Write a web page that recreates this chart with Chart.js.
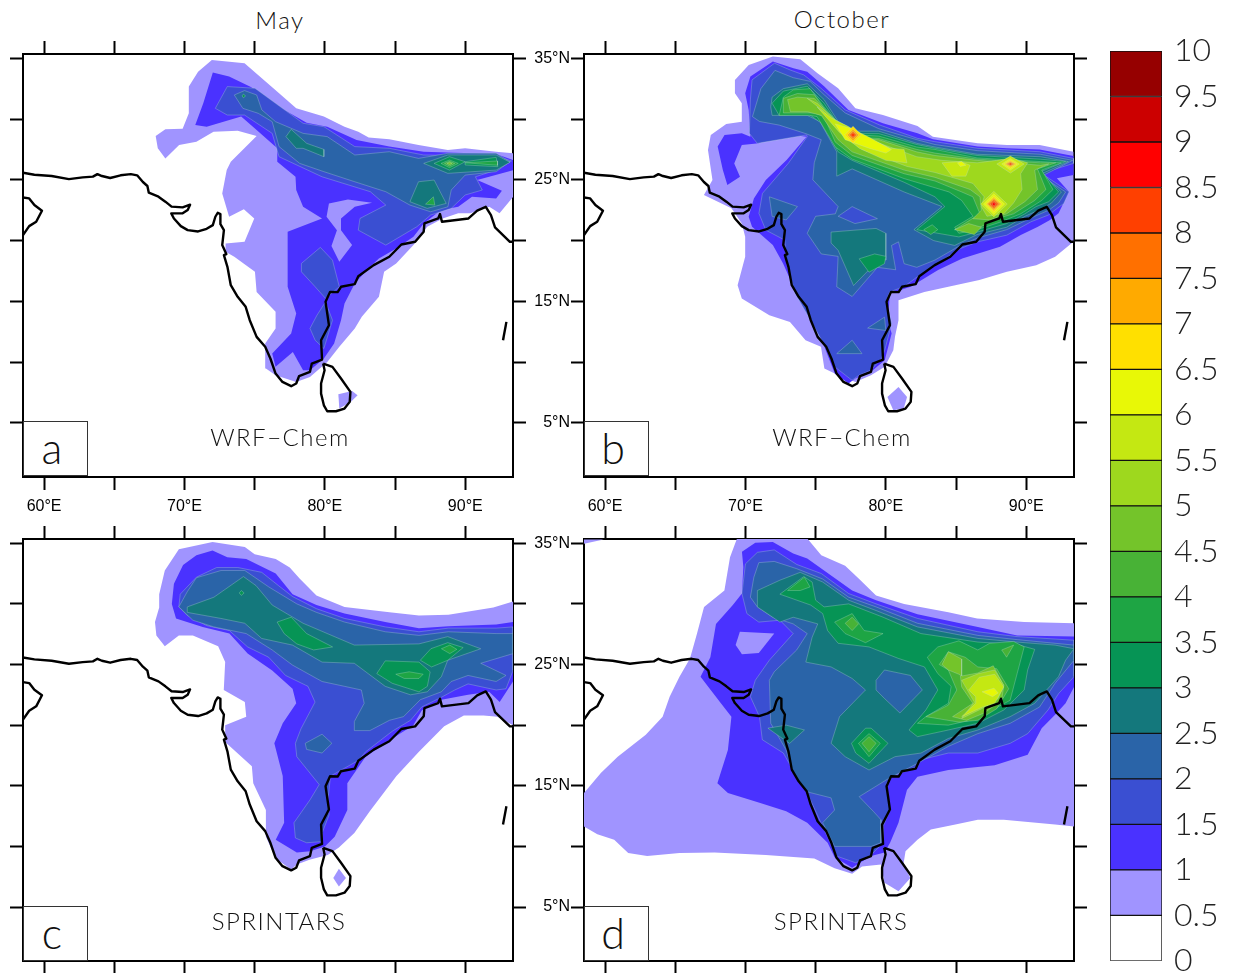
<!DOCTYPE html>
<html>
<head>
<meta charset="utf-8">
<title>May / October</title>
<script src="https://cdn.jsdelivr.net/npm/chart.js@4/dist/chart.umd.min.js"></script>
<style>
html,body{margin:0;padding:0;background:#fff;overflow:hidden;width:1241px;height:973px}
canvas{position:absolute}
.txt{position:absolute;font-family:"Lato","Open Sans",sans-serif;font-weight:300;color:#111;white-space:nowrap;transform:translate(-50%,-50%);letter-spacing:1.5px}
.box{position:absolute;width:65px;height:55px;background:#fff;border:1px solid #333;box-sizing:border-box;padding-right:7px;text-align:center;font-family:"Lato",sans-serif;font-weight:300;font-size:43px;line-height:52px;color:#111}
</style>
</head>
<body>
<canvas id="panelA" width="530" height="488" style="left:3px;top:34px"></canvas>
<canvas id="panelB" width="570" height="488" style="left:524px;top:34px"></canvas>
<canvas id="panelC" width="530" height="455" style="left:3px;top:519px"></canvas>
<canvas id="panelD" width="570" height="455" style="left:524px;top:519px"></canvas>
<canvas id="colorBar" width="141" height="981" style="left:1100px;top:11px"></canvas>

<div class="txt" style="left:280px;top:19px;font-size:24px">May</div>
<div class="txt" style="left:842px;top:18px;font-size:24px">October</div>
<div class="txt" style="left:280px;top:436px;font-size:24px">WRF−Chem</div>
<div class="txt" style="left:842px;top:436px;font-size:24px">WRF−Chem</div>
<div class="txt" style="left:279px;top:920px;font-size:24px">SPRINTARS</div>
<div class="txt" style="left:841px;top:920px;font-size:24px">SPRINTARS</div>
<div class="box" style="left:23px;top:421px">a</div>
<div class="box" style="left:584px;top:421px">b</div>
<div class="box" style="left:23px;top:906px">c</div>
<div class="box" style="left:584px;top:906px">d</div>

<script>
// colour bar
const barSteps = [0,0.5,1,1.5,2,2.5,3,3.5,4,4.5,5,5.5,6,6.5,7,7.5,8,8.5,9,9.5];
const barColors = ['#ffffff','#a094ff','#4a32ff','#3a4fd2','#2a64a8','#14787c','#069455','#1ea544','#48b236','#74c42a',
    '#9ed81e','#c4e812','#e8f806','#ffe000','#ffaa00','#ff7000','#ff4000','#ff0000','#cc0000','#960000'];

// map coastline, lon,lat pairs
const coastMain = [58.5,25.58,59.31,25.42,60.54,25.31,61.77,25.06,62.75,25.2,63.48,25.26,63.8,25.47,64.12,25.31,64.71,25.15,65.45,25.37,66.18,25.47,66.63,25.37,67.04,24.82,67.36,24.49,67.46,23.94,68.15,23.61,68.64,23.2,69.08,22.79,69.87,22.73,70.4,22.95,70.23,22.51,69.87,22.24,69.06,22.24,69.25,21.82,69.74,21.19,70.23,20.86,70.97,20.75,71.58,20.97,72.02,21.27,72.2,21.96,72.37,22.29,72.56,22.18,72.56,21.36,72.81,20.86,72.69,19.63,72.98,18.89,72.81,18.8,73.06,17.84,73.3,16.33,73.79,15.37,74.36,14.55,74.65,13.45,75.14,12.08,75.75,11.26,76.12,10.3,76.49,9.06,76.98,8.37,77.6,8.02,77.96,8.24,78.16,8.84,78.94,9.2,79.07,9.88,79.8,10.21,79.73,11.8,80.29,13.04,80.05,14.96,80.37,15.78,80.91,15.76,81.15,16.2,82.13,16.42,82.38,17.07,83.48,17.98,84.59,18.67,85.45,19.68,86.43,19.9,87.04,20.73,87.09,21.41,88.07,21.82,88.2,22.18,88.34,21.55,90.23,21.82,90.85,22.46,91.46,22.78,91.83,22.1,92.12,21.08,93.18,19.9,93.42,19.9];
const coastOman = [58.5,23.55,58.94,23.47,59.31,22.92,59.85,22.46,59.44,21.55,58.94,21.19,58.5,20.45];
const coastLanka = [79.88,9.88,80.54,9.61,81.15,8.65,81.82,7.55,81.77,6.73,81.4,6.18,80.79,5.96,80.17,5.96,79.93,6.45,79.73,7.41,79.73,8.24,79.98,9.33,79.88,9.88];
const coastIsle = [92.93,13.31,92.69,11.8];

// [level, lon,lat ring]
const wrfMay = [
[0.5,[71.95,34.86,74.28,34.59,75.51,33.35,76.74,32.12,77.96,30.88,79.93,30.2,81.4,29.37,82.38,28.96,83.12,28.49,84.59,28.33,86.67,27.86,88.76,27.45,89.99,27.59,92.2,27.31,93.42,27.18,93.42,23.61,92.44,22.24,91.71,22.78,90.36,22.24,89.5,22.24,88.39,21.82,87.29,21.13,86.31,19.63,85.08,18.12,84.22,17.43,83.85,15.37,82.63,13.73,82.13,12.77,81.03,11.26,80.17,10.02,78.94,8.78,77.96,8.37,76.49,8.92,75.8,9.47,75.75,11.53,76.49,12.77,76.49,14.14,75.14,15.78,75.02,17.43,73.55,18.67,72.93,19.08,72.93,19.77,74.28,19.9,74.97,21.82,74.23,22.57,73.18,21.96,72.69,23.88,73.01,25.8,73.3,26.49,75.14,28.6,73.79,29.04,72.07,28.96,70.85,28.14,69.62,27.86,68.64,26.76,68.1,27.59,67.95,28.6,68.64,29.15,69.87,29.21,70.31,30.47,70.31,32.67,70.97,33.9]],
[0.5,[80.96,7.36,81.94,7.63,82.33,7.28,81.84,6.73,81.03,6.18]],
[1,[72.02,33.82,73.18,33.49,74.77,32.61,76.49,31.16,78.7,29.7,80.17,29.37,82.26,28.27,84.59,27.73,87.04,27.31,92.2,27.12,93.42,26.63,93.42,25.8,90.85,24.98,92.61,24.1,92.2,23.47,90.48,23.61,89.5,22.78,88.27,22.51,87.04,21.41,86.31,20.31,85.08,19.35,83.85,18.53,82.99,17.57,82.13,16.47,81.4,14.82,81.15,13.45,80.66,11.53,79.93,10.29,78.94,9.33,78.45,9.33,77.72,10.84,76.49,9.61,76.25,10.71,77.6,12.35,77.96,14,77.35,16.2,77.35,20.73,79.8,21.82,78.45,22.78,77.96,24.16,77.91,25.25,76.61,26.49,76.61,27.59,75.14,29.1,74.04,30.2,71.58,29.37,70.77,29.51,71.34,31.29]],
[0.5,[80.29,23.06,81.64,23.39,83.36,23.11,82.13,22.78,81.15,21.82,81.15,20.86,81.94,19.63,81.03,18.26,80.47,19.55,80.86,20.86,80.12,21.96]],
[1.5,[73.05,32.67,75.02,32.53,76.49,31.29,78.45,29.65,79.93,29.37,82.13,27.73,84.59,27.59,87.04,27.04,92.2,26.96,93.3,26.55,92.2,25.8,90.72,25.25,91.21,24.16,89.99,23.75,89,22.65,87.53,22.1,86.55,21.14,84.34,19.63,82.38,20.86,82.5,21.82,84.34,22.92,83.24,24.02,79.8,25.25,76.74,26.9,76.25,28.82,74.28,30.33,73.05,30.33,72.2,30.88]],
[1.5,[78.33,18.12,79.68,19.44,80.54,18.39,81.03,16.2,80.05,15.24,79.31,16.2,78.33,17.43]],
[1.5,[78.94,12.77,79.44,13.86,80.05,14.96,80.54,13.45,79.93,11.12,79.31,11.8]],
[2,[73.55,31.98,74.28,32.34,75.14,31.98,75.51,30.75,76.49,29.78,78.45,28.82,80.17,28.55,82.13,27.04,84.59,27.31,86.67,26.76,88.76,27.18,92.2,27.18,93.18,26.49,92.2,25.67,89.99,25.39,89,24.16,88.76,22.78,87.53,22.37,86.06,22.92,84.34,24.02,82.13,24.84,79.93,25.67,78.21,26.35,76.74,27.73,76.25,29.78,75.26,30.47,74.16,30.88]],
[2.5,[77.23,28.55,77.6,29.15,78.7,28,79.93,27.5,79.93,26.9,78.45,27.59,77.96,27.59]],
[2.5,[86.06,23.2,86.67,24.84,87.78,24.98,88.64,23.06,87.29,22.65]],
[2.5,[87.04,26.35,88.76,27.04,92.2,27.04,93.18,26.44,92.2,25.8,88.76,25.53]],
[3,[87.78,26.35,88.88,26.9,89.99,26.49,88.88,25.8]],
[3,[89.99,26.49,92.2,26.85,92.32,26.08,89.99,26.22]],
[3,[74.1,31.9,74.2,32.05,74.35,31.9,74.2,31.75]],
[3.5,[87.17,23,87.73,23.6,87.83,22.92]],
[3.5,[88.27,26.35,88.88,26.63,89.5,26.35,88.88,26]],
[3.5,[90,26.4,92.3,26.55,92.3,26.2]],
[4,[88.52,26.35,88.88,26.52,89.25,26.35,88.88,26.13]],
[4.5,[88.7,26.35,88.88,26.45,89.06,26.35,88.88,26.25]]
];

const wrfOct = [
[0.5,[71.95,35.14,73.91,34.92,75.13,33.76,76.6,32.53,77.83,30.88,79.79,30.33,82.25,29.43,83.35,28.55,86.54,28,88.62,27.86,90.95,27.86,93.36,27.31,93.36,19.9,92.06,18.67,90.71,17.98,88.62,17.43,86.66,16.75,84.45,16.2,82.74,15.78,80.9,15.1,80.9,13.45,80.65,12.08,80.53,10.98,79.92,9.61,78.94,8.92,77.83,8.37,76.36,9.06,75.62,9.47,75.38,11.26,74.28,11.8,73.17,13.31,71.7,13.86,69.74,15.24,69.44,16.33,69.98,18.67,69.98,20.31,69.74,21.41,69,22.65,67.04,23.75,67.65,24.98,67.33,27.45,67.53,28.69,68.63,29.59,69.74,29.78,69.74,31.29,69.25,32.12,69.25,33.22,70.23,34.45]],
[0.5,[80.11,7.14,80.9,7.96,81.51,7.14,81.27,6.18,80.53,6.04]],
[1,[71.95,34.73,73.42,34.18,74.4,33.9,75.62,32.67,77.34,30.75,79.79,29.65,82.25,28.82,83.35,28.33,86.54,27.73,88.62,27.59,90.95,27.5,93.36,26.96,93.36,25.39,92.18,25.12,93.04,24.02,92.3,22.24,91.69,21.69,90.83,21.14,89.61,20.45,88.13,19.49,85.44,18.53,83.72,17.57,81.76,16.2,80.28,15.65,80.16,13.45,80.41,12.35,79.92,10.16,78.94,9.2,77.83,8.65,77.34,8.24,76.36,9.06,75.62,11.26,75.38,12.77,74.4,14.55,73.42,16.2,72.68,18.12,71.95,19.63,70.47,21.14,70.23,21.96,70.6,23.47,71.45,24.98,72.93,26.63,74.35,28.55,72.44,28.82,70.96,28,69.74,27.86,69.2,26.35,69.61,25.25,68.71,24.57,68.39,25.8,68.02,27.73,68.51,28.69,69.74,28.82,70.35,28.55,70.23,30.75,69.98,32.12,70.35,33.49]],
[1.5,[72.07,34.59,73.17,34.04,74.15,33.63,75.38,32.53,77.1,30.75,79.55,29.51,82.25,28.41,83.47,28.14,86.54,27.59,90.95,27.31,93.36,26.76,93.36,26.35,91.08,25.53,93.04,24.02,92.67,23.06,91.57,22.1,90.34,21.55,88.62,20.45,86.54,19.9,85.31,19.35,83.72,18.12,82.25,17.02,81.27,16.2,80.28,15.78,80.04,15.1,80.41,13.18,79.92,10.98,79.67,10.29,78.94,9.33,78.08,8.92,77.59,8.51,76.36,9.61,75.62,11.39,74.64,13.45,73.54,15.65,72.93,18.12,72.8,20.04,71.45,20.86,70.96,22.24,71.21,23.88,73.05,26.35,74.4,28.55,74.35,28.69,70.84,28,70.28,28.82,70.35,31.57,70.47,33.22]],
[2,[72.1,34,73.4,33.4,74.6,33.1,75.6,32,77.1,30.5,79.5,29.2,82.2,28.3,83.5,27.9,86.5,27.4,91,27.1,93.3,26.6,91.1,25.3,92.8,24,92.3,23.1,91.6,22.5,90.6,22,88.6,20.9,86.5,20.2,85.3,19.6,83.5,18.4,82.2,17.8,81.3,18.1,80.9,19.9,80.4,19.6,80.7,17.6,79.4,17.8,77.6,15.4,76.5,16.2,76.6,18.7,75.4,18.9,74.4,20.6,75,22,76.4,22.2,76.6,22.8,74.8,25,74.9,26.4,75.4,28.3,74.3,28.8,72.4,29.5,71,29.8,70.5,30.2,71.1,32.5]],
[2,[71.7,23.6,73.7,22.8,72.9,21.7,71.9,22]],
[2,[78.7,12.8,79.9,13.7,80,12.6]],
[2,[76.5,10.7,77.6,11.8,78.3,10.7]],
[1.5,[76.6,22,77.6,22.8,79.4,21.8,77.8,21.4]],
[2.5,[71.8,31,71.9,31.8,72.7,32.5,74.4,32.9,75.6,31.6,76.6,29.8,77.8,29,79.5,29,82.2,28,83.5,27.7,86.5,27.1,91,26.9,93,26.5,91.1,25.5,92.5,24,91.8,23.1,91.1,22.6,89.9,22,88.6,21.1,86.5,20.5,84.9,19.6,83.4,20,82,20.9,84,22.8,81.3,24,77.6,25.9,76.5,25.3,76.5,27.3,75.3,29.8,74.4,30.3,71.9,30.3]],
[2.5,[76.1,20.7,79.3,21,80,20.6,80,18.4,78.8,17.6,77.7,16.3,76.6,19.2,76.1,19.8]],
[3,[71.9,31.3,72.7,32.3,74.4,32.7,75.6,31.3,76.6,29.6,77.8,28.8,79.5,28.8,82.2,27.9,83.5,27.6,86.5,27,91,26.7,92.8,26.5,91.1,25.7,92.3,24,91.6,23.2,90.7,22.8,89.9,22.2,88.6,21.4,86.5,20.7,85.2,20.3,82.2,20.9,84.2,22.8,83.5,23.6,81.3,24.8,77.6,26.6,76.6,27.3,75.6,29.5,74.4,30.5,72.4,30.3]],
[3,[78.1,18.5,79.2,18.9,80,18.7,79.9,18.1,78.8,17.4]],
[3.5,[72.7,31.8,73.4,32.4,74.6,32.5,75.6,31,76.7,29.5,77.8,28.7,79.5,28.6,82.2,27.7,83.5,27.5,86.5,26.8,91,26.5,92.5,26.4,91.1,25.8,91.9,24.2,91.1,23.3,89.6,22.2,88.1,21.5,86.5,20.9,85.2,20.6,84.9,21.1,86.2,22,85.4,23.3,84.5,24,81.3,25.1,77.6,26.7,76.4,27.7,75.1,30.2,74.6,30.3,72.4,30.3]],
[3.5,[82.7,20.9,83.3,21.3,83.7,20.9,83.2,20.5]],
[4,[72.7,31.7,73.7,32.1,74.9,32,75.7,30.7,76.9,29.4,77.8,28.5,79.5,28.4,82.2,27.5,83.5,27.2,86.5,26.7,91,26.4,92.1,26.4,90.8,25.9,91.4,24.2,90.6,23.3,89.1,22.2,87.9,21.8,86.7,21.1,84.9,20.9,86.7,22.2,86.2,23.6,85.4,24,83.5,24.9,81.3,25.5,77.6,27,76.4,28.1,75.6,30.2,74.9,30.5,72.7,30.5]],
[4.5,[73.7,31.8,74.9,31.7,75.9,30.5,77,29.2,77.8,28.4,79.5,28.3,82.2,27.3,83.5,27,86.5,26.6,91,26.2,91.6,26.3,90.6,25.8,90.8,24.2,89.9,23.2,88.6,22.2,87.4,21.7,86.2,21.8,86.8,22.5,86.7,23.6,86,24.2,83.5,25.2,81.3,25.8,77.6,27.3,76.6,28.3,75.4,30.3,74.4,30.6,73.2,30.6,73,31.6]],
[4.5,[84.9,20.9,85.9,21.4,86.8,21.1,86.3,20.5]],
[5,[74.4,31.7,75.1,31.3,76.1,30.2,77.1,29.2,78.3,28.5,80.3,27.7,82.2,26.9,84,26.6,86.5,26.4,87.9,26.6,88.9,26.8,90.1,26.4,89.6,25.5,89.7,24.2,89.1,23.1,88.4,22.2,87.2,22,86.8,22.8,87,23.6,86.2,24.7,83.5,25.6,81.5,26.1,78.3,27.5,77,28.7,75.6,30.6]],
[5.5,[75.1,31,76.1,30.1,77.3,29.4,78.6,28.5,80.3,27.6,81.3,27.5,81.5,26.4,80,26.6,78.1,27.6,76.7,28.9]],
[5.5,[84,26.4,85.3,26.5,86,26.2,85.7,25.3,84.7,25.3]],
[5.5,[87.9,26.3,88.87,26.95,89.85,26.3,88.87,25.55]],
[5.5,[86.75,23,87.69,24.05,88.65,23,87.69,21.95]],
[6,[76.4,29.6,77.6,29.2,78.8,28.5,80.4,27.5,80,27.2,78.8,27.6,77.1,28.3]],
[6,[85.1,26.4,85.4,26.5,85.7,26.2,85.3,26.1]],
[6,[88.25,26.3,88.87,26.75,89.5,26.3,88.87,25.8]],
[6,[86.95,23,87.69,23.85,88.45,23,87.69,22.15]],
[6.5,[77.06,28.69,77.66,29.4,78.26,28.69,77.66,28]],
[6.5,[88.4,26.3,88.87,26.62,89.34,26.3,88.87,25.95]],
[6.5,[87.1,23,87.69,23.65,88.28,23,87.69,22.35]],
[7,[77.25,28.69,77.66,29.15,78.07,28.69,77.66,28.2]],
[7,[88.52,26.3,88.87,26.52,89.22,26.3,88.87,26.08]],
[7,[87.2,23,87.69,23.5,88.18,23,87.69,22.5]],
[7.5,[77.37,28.69,77.66,29,77.95,28.69,77.66,28.4]],
[7.5,[88.62,26.3,88.87,26.45,89.12,26.3,88.87,26.15]],
[7.5,[87.3,23,87.69,23.38,88.08,23,87.69,22.62]],
[8,[77.48,28.69,77.66,28.88,77.84,28.69,77.66,28.5]],
[8,[88.72,26.3,88.87,26.38,89.02,26.3,88.87,26.22]],
[8,[87.42,23,87.69,23.25,87.96,23,87.69,22.75]],
[8.5,[87.55,23,87.69,23.13,87.83,23,87.69,22.87]]
];

const sprMay = [
[0.5,[72,35.1,74.3,34.7,75,34.1,76.5,33.7,77.5,33,78.2,32.1,79.4,30.7,81.4,29.75,84.6,29.3,86.7,29.05,88.8,29.1,92,29.7,93.4,30.2,93.4,20,92.3,20.7,91.3,20.8,89.9,20.8,88.5,19.9,86.7,17.8,85.1,15.8,83.2,12.9,82.1,11.1,81,9.9,80.2,9.3,78.9,8.9,78,8.5,77.6,8.1,76.5,9,75.8,10.8,75.8,13,74.9,15.2,74.8,16.6,72.9,18.6,72.9,20,74.4,20.7,74.3,21.9,72.8,22.9,72.9,25.2,72.4,26.5,70.6,27.4,69.6,27.4,68.6,26.5,68,27.4,67.9,28.5,68.2,29.7,68.2,30.8,68.6,32.75,69.6,34.5]],
[0.5,[81,8.15,81.5,7.4,81,6.7,80.6,7.4]],
[1,[72,34.4,73.05,33.85,74.4,33.7,76.5,32.5,77.7,30.8,79.4,29.9,81.4,29.2,84.3,28.5,86.7,28,88.8,28.15,92.2,28.3,93.4,28.5,93.4,23.6,92.45,21.9,91.7,22.75,90.2,22.5,88.3,22.1,86.9,21.2,86.3,20,84.8,18.9,82.9,17.4,81.6,15.2,81.6,13,80.7,10.8,80,10,78.95,9.6,78,9.5,76.5,10.55,77.1,11.95,77,15.8,76.4,18.5,77,20.15,77.96,21.8,77.7,23,76.25,24.5,74.5,25.9,73.2,27.55,71.3,28.1,69.4,28.8,69.1,30,69.25,31.65,69.9,33.2,70.85,34]],
[1.5,[72.3,33,73.8,33,75.5,32.6,76.7,31.5,77.7,30.6,79.4,29.6,81.4,28.8,84.3,28.1,86.7,27.7,88.8,28,92.2,28,93.4,28.1,93.4,24.5,92.9,23,92.2,22.9,90.2,23.4,89.25,22.9,88.3,22.3,86.9,21.5,86.1,20.4,84.8,19.5,82.9,17.8,82.4,17.1,80.4,15.8,80.2,13.6,80.3,12.6,79.8,11.1,79.8,10.4,78.7,10.3,77.9,10.7,77.8,11.95,78.95,13.85,79.6,15.1,78,17.4,77.9,18.5,78.3,19.7,79.3,21.9,78.8,23.2,77.2,24.1,76,25.6,74.5,26.45,73.2,27.8,71.6,28.2,70.2,29.05,69.6,29.75,69.7,30.8,70.85,32.2]],
[2,[70.85,32.15,72.6,32.75,74.3,32.75,76,31.4,78,30,79.4,29.3,81.4,28.5,84.3,27.7,86.7,27.4,88.8,27.7,92.2,27.55,93.4,27.55,93.4,25.9,91.1,25.1,92.9,24.1,92.2,23.6,90.2,24.1,89,23.6,88.3,22.75,86.8,22.1,85.6,20.7,84.6,20.4,83.2,19.55,82.1,19.55,82.1,20.3,82.8,21.8,82.6,22.9,81.4,23.2,79.8,23.6,77.7,24.95,76.25,26.2,74.4,27.55,72.1,28.1,70.6,28.65,69.6,29.75,70.2,31]],
[2,[78.6,18.5,79.8,19.25,80.5,18.5,79.8,17.7,78.7,18]],
[2.5,[70.2,29.75,72.1,30.55,74.2,32.25,75.1,31.5,76.25,29.9,78.45,28.4,82.1,26.6,86.7,26.7,88.75,27.3,91.1,26.3,88.75,25.35,88.3,24,87.3,22.75,86.1,22.5,84.3,23.2,82.1,25.1,79.8,25.2,77.7,26.6,75.5,27.15,74.3,28.4,72.6,28.8,70.2,29.3]],
[3,[76.6,28.5,77.6,28.9,78.7,27.55,80.55,26.45,79.2,26.2,78,26.7,77.1,27.55]],
[3,[83.7,24.25,84.3,25.3,86.7,25.2,87.5,24.4,87.3,23.2,86.7,22.75,84.8,23.45]],
[3,[86.8,25.35,87.55,26.3,88.75,26.8,89.85,26.4,88.75,25.35,87.6,24.8]],
[3,[73.9,30.9,74.05,31.1,74.25,30.9,74.05,30.7]],
[3.5,[85.05,24.2,86,24.4,87,24.2,86.7,23.85,85.65,23.85]],
[3.5,[88.9,26.6,89.4,26.25,88.9,25.9,88.3,26.3]]
];

const sprOct = [
[0.5,[58.5,14.4,59.7,16.05,60.9,17.4,62.9,19.2,64.1,20.7,64.6,22.35,65.3,24,66.05,25.5,66.55,27.55,67.05,29.75,68.5,31.1,68.9,33.85,69.4,35.4,74.4,35.4,75.4,34,77.1,33.15,78.1,32.05,79.3,30.7,81.3,30,84.45,29.3,86.5,28.8,89.85,28.5,93.4,28.4,93.4,11.65,92.05,11.8,88.4,12.2,86.55,12.2,84.95,11.8,83.2,11.4,82.25,10.55,81.4,9.6,81.25,8.5,81.75,7.4,80.9,6.3,79.9,7,79.65,8.5,78.3,8.35,77.6,7.75,76.35,8.2,74.9,9,71.45,9.3,67.8,9.5,65.3,9.45,63,9.2,61.65,9.45,60.65,10.55,59.45,11,58.5,11.65]],
[0.5,[58.5,34.95,59.9,35.3,58.5,35.3]],
[1,[69.75,34.3,70.7,35.05,71.95,35.1,73.4,34.15,74.4,33.75,75.9,32.5,77.6,31.1,79.3,30.3,82.25,29.15,86.55,28.1,89.35,27.4,93.4,27.3,93.4,23.15,92.8,21.8,92.05,20.85,91.1,19.75,90.1,17.55,87.75,16.7,84.45,16.3,82.25,15.75,81.5,14.65,80.9,11.95,80.3,10.3,79.9,9.5,78.95,9.2,77.95,8.5,77.6,8.25,76.35,9.1,75.85,10.3,74.4,11.95,72.9,12.9,71,13.6,68.75,14.4,68,15.2,68.75,17.95,69,20.7,68.25,21.8,66.8,24,67.5,25.6,67.9,28.35,69.1,29.9,69.75,30.85,69.85,33.05]],
[0.5,[69.6,27.7,72.05,27.55,70.95,25.95,69.75,25.85,69.3,26.6]],
[1.5,[70,33.3,70.85,34.25,72.05,34.45,73.65,33.25,75.4,32.5,77.35,30.85,79.3,30,82.25,28.8,86.55,27.7,89.35,27.3,93.4,27,93.4,24,92.3,22.6,91.55,21.25,90.1,19.3,88.85,18.5,86.55,17.7,84.45,17.7,82.5,17.15,82.25,16.6,80.4,15.75,80.05,15.2,80.3,13,79.8,11.65,79.8,10.3,78.95,9.3,77.85,8.65,76.5,9.2,75.6,11.4,74.4,14.4,73.65,15.75,72.7,17.7,71.2,18.8,71,20.7,70.35,22.35,70.7,23.7,71.7,25.35,73.4,27.55,72.45,28.65,70.95,28.5,70.1,29.2,69.75,30.85]],
[2,[70.6,32.2,70.95,33.4,72.05,33.5,73.65,32.9,75.5,32.05,77.35,30.55,79.3,29.75,82.25,28.4,86.55,27.4,89.35,27.05,93.4,26.6,93.4,25.35,92.05,23.45,90.95,21.5,88.85,20.15,86.55,19.3,84.45,18.25,82.25,16.85,80.05,15.5,78.1,14.1,79.1,12.9,79.65,12.2,79.65,10.3,78.95,10,76.35,10,75.5,11.95,76.35,13,76.1,14,74.4,14.5,73.4,16.05,72.9,17.95,71.8,20.15,71.7,23.7,72.05,24.4,73.65,26.2,74.4,27.55,73.4,28.35,71.95,28.9,70.85,29.75,70.35,30.55]],
[2.5,[70.85,29.75,70.85,31.1,72.45,31.95,73.9,32.6,75.5,31.8,77.35,30.3,79.3,29.45,82.25,28.1,86.55,27.15,89.35,26.85,92.05,26.6,93.4,26.3,92.8,25.35,92.3,24,90.6,21.8,88.85,20.7,86.55,19.6,84.45,18.9,82.5,17.7,80.65,17.4,78.8,16.3,77.1,17.4,76.1,18.5,76.7,20.7,78.55,22.9,77.6,23.85,76.1,24.8,74.3,25.2,74.75,27.25,75.15,28.35,73.4,28.9,72.45,28.5]],
[2,[79.3,23.7,79.9,24.55,81.75,24.1,82.6,22.9,81,21,79.9,22.2,79.3,22.9]],
[2.5,[71.6,19.75,72.9,20,74.2,19.6,73.15,18.5,72.45,19.05]],
[3,[72.45,30.8,74.15,32.25,74.75,31.8,75,30.3,75.6,29.75,77.35,30,79.8,28.9,82.5,27.55,86.55,26.85,89.35,26.65,90.6,26.25,90.1,24.55,89.85,22.9,88.4,21.25,86.55,20.15,84.45,19.6,82.25,19.05,81.65,19.6,82.85,21.25,83.7,22.9,82.75,24.8,80.9,25.5,78.8,26.45,76.6,26.75,75.85,27.8,75.5,29.2,74.65,29.9]],
[3,[77.55,18.5,78.55,19.75,78.95,19.75,80.15,18.5,78.8,16.85,77.85,17.7]],
[3.5,[73,31.1,74.2,32.2,74.6,31.4,73.9,31.1]],
[3.5,[76.35,28.5,77.6,29.2,78.45,27.8,79.8,27.55,78.55,26.8,77.1,27.55]],
[3.5,[82.95,25.6,83.7,26.45,85.2,26.95,86.55,26.2,87.4,26.75,89.1,26.9,89.85,26.45,89.35,24.25,88.85,22.05,87.1,20.95,86.55,20.55,84.45,20,82.25,20.15,82.85,20.7,84.45,21.8,84.65,23.2,83.7,24.25]],
[3.5,[78.05,18.5,78.8,19.3,79.6,18.5,78.8,17.4]],
[4,[77.1,28.4,77.6,28.9,78.05,28.35,77.6,27.8]],
[4,[78.3,18.5,78.8,19.05,79.3,18.5,78.8,17.8]],
[4,[83.8,25,84.45,26.05,85.65,25.6,86.55,24.8,87.9,24.65,88.75,23,87.9,21.35,86.55,20.4,85.2,20.25,82.85,20.7,84.45,21.65,85.05,22.9,84.45,24.55]],
[4,[88.25,26.2,89.1,26.6,88.6,25.6]],
[4.5,[84,25,84.45,26.05,85.4,25.45,85.4,24.05,86.55,24.3,87.65,24.9,88.4,23.25,88.25,22.05,87,21,85.75,20.4,84.75,20.7,86.2,21.8,85.4,23.15,85.3,24.15,84.45,24.55]],
[5,[85.4,23.7,86.6,24.25,87.75,24.55,88.4,23.3,88,22.2,86.9,21.4,85.4,20.55,86.3,21.9]],
[5.5,[85.9,22.9,86.65,23.95,87.75,24.2,88.4,23.15,87.75,21.8,86.9,21.5,85.4,20.7,86.4,21.8,86.4,22.35]],
[6,[86.85,22.75,87.7,23.05,88,22.65,87.6,22.35]]
];

const lonMin = 58.5, lonMax = 93.4, latMin = 0.55, latMax = 35.35;
const lonLabels = [60,70,80,90];
const latLabels = [5,15,25,35];
const tickFont = {family:'"Liberation Sans",sans-serif', size:16};

function toPoints(flat){
    const pts = [];
    for(let i=0;i<flat.length;i+=2){
        pts.push({x:flat[i],y:flat[i+1]});
    }
    return pts;
}

function buildDatasets(rings){
    const sets = rings.map(([level,ring],i)=>{
        const pts = toPoints(ring);
        pts.push(pts[0]);
        return {
            data:pts,
            showLine:true,
            fill:'shape',
            tension:0,
            pointRadius:0,
            backgroundColor:barColors[level*2],
            borderColor:level>=1.5 ? 'rgba(190,225,215,0.5)' : barColors[level*2],
            borderWidth:level>=1.5 ? 0.6 : 0,
            order:rings.length-i+1
        };
    });
    [coastMain,coastOman,coastLanka,coastIsle].forEach(c=>{
        sets.push({
            data:toPoints(c),
            showLine:true,
            fill:false,
            tension:0,
            pointRadius:0,
            borderColor:'#000',
            borderWidth:2.4,
            borderJoinStyle:'round',
            order:0
        });
    });
    return sets;
}

function axis(position,min,max,size,labelFn){
    const horizontal = position==='top' || position==='bottom';
    return {
        type:'linear',
        position,
        min,
        max,
        afterFit:s=>{ if(horizontal){s.height=size}else{s.width=size} },
        grid:{drawOnChartArea:false,drawTicks:true,tickLength:13,tickWidth:2,tickColor:'#000'},
        border:{display:true,width:2,color:'#000'},
        ticks:{
            stepSize:5,
            includeBounds:false,
            autoSkip:false,
            maxRotation:0,
            display:!!labelFn,
            padding:horizontal ? 7 : 1,
            color:'#000',
            font:tickFont,
            callback:labelFn || (()=>'')
        }
    };
}

const lonText = v=>lonLabels.includes(v) ? v+'°E' : '';
const latText = v=>latLabels.includes(v) ? v+'°N' : '';

function drawPanel(id,rings,showLon,showLat){
    new Chart(document.getElementById(id),{
        type:'scatter',
        data:{datasets:buildDatasets(rings)},
        options:{
            responsive:false,
            animation:false,
            events:[],
            layout:{autoPadding:false,padding:0},
            plugins:{legend:{display:false},tooltip:{enabled:false}},
            scales:{
                x:axis('bottom',lonMin,lonMax,showLon ? 45 : 13,showLon ? lonText : null),
                xTop:Object.assign(axis('top',lonMin,lonMax,20,null),{axis:'x'}),
                y:axis('left',latMin,latMax,showLat ? 60 : 20,showLat ? latText : null),
                yRight:Object.assign(axis('right',latMin,latMax,20,null),{axis:'y'})
            }
        }
    });
}

drawPanel('panelA',wrfMay,true,false);
drawPanel('panelB',wrfOct,true,true);
drawPanel('panelC',sprMay,false,false);
drawPanel('panelD',sprOct,false,true);

new Chart(document.getElementById('colorBar'),{
    type:'bar',
    data:{
        labels:[''],
        datasets:barSteps.map((s,i)=>({
            data:[0.5],
            backgroundColor:barColors[i],
            borderColor:'#111',
            borderWidth:1,
            borderSkipped:false,
            barPercentage:1,
            categoryPercentage:1
        }))
    },
    options:{
        responsive:false,
        animation:false,
        events:[],
        layout:{autoPadding:false,padding:{left:10,top:40,bottom:4}},
        plugins:{legend:{display:false},tooltip:{enabled:false}},
        scales:{
            x:{stacked:true,display:false},
            y:{
                stacked:true,
                position:'right',
                min:0,
                max:10,
                afterFit:s=>{s.width=79},
                grid:{display:false,drawTicks:false},
                border:{display:false},
                ticks:{
                    stepSize:0.5,
                    autoSkip:false,
                    padding:12,
                    color:'#222',
                    callback:v=>String(v),
                    font:{family:'"Lato","Open Sans",sans-serif',size:32,weight:'300'}
                }
            }
        }
    }
});
</script>
</body>
</html>
